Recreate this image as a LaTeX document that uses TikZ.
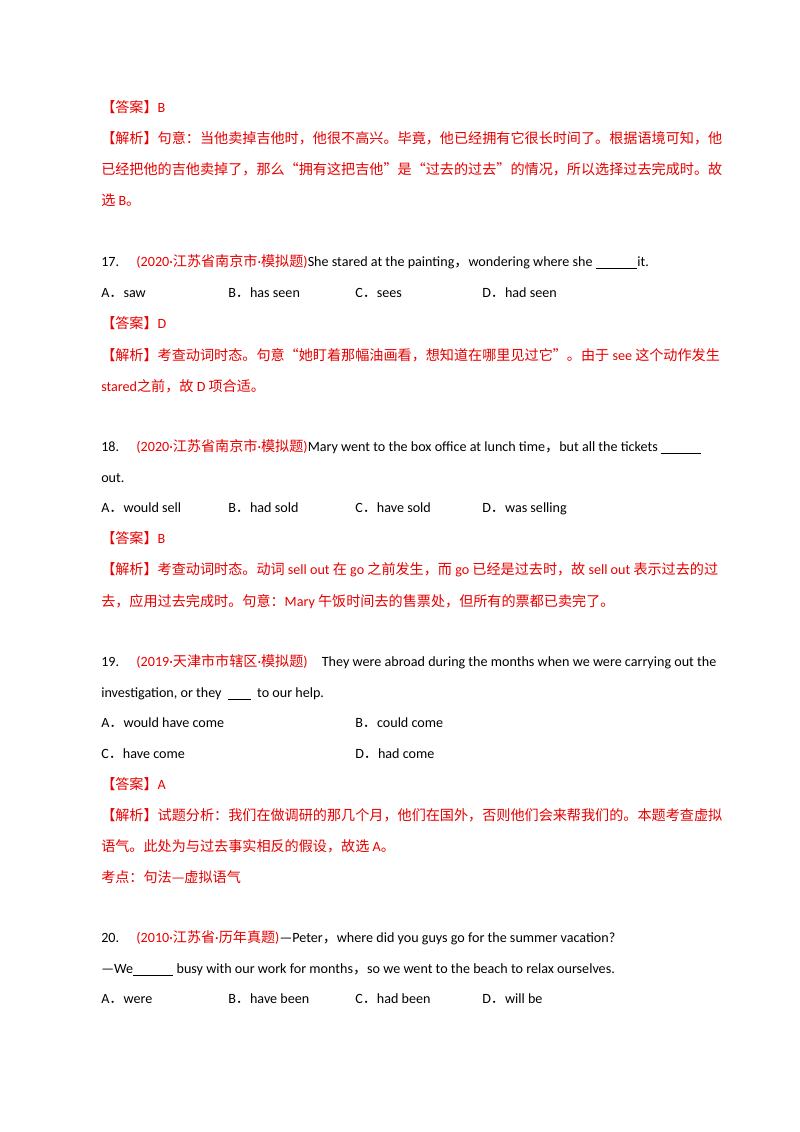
\documentclass[tikz,border=0pt]{standalone}
\usepackage{fontspec}
\setmainfont{Carlito}
\newfontfamily\cjk{Noto Sans CJK SC}
\newcommand\fdot{{\cjk ．}}
\definecolor{ansred}{RGB}{230,0,0}
\begin{document}
\begin{tikzpicture}[x=0.744pt,y=-0.744pt,
  ln/.style={anchor=base west,inner sep=0pt,font=\fontsize{10.5}{12}\selectfont},
  rl/.style={ln,text=ansred}]
\useasboundingbox (0,0) rectangle (800,1132);
\node[rl] (a1) at (101,112) {\cjk 【答案】\rmfamily B};
\node[rl] (a2) at (101,143) {\cjk 【解析】句意：当他卖掉吉他时，他很不高兴。毕竟，他已经拥有它很长时间了。根据语境可知，他};
\node[rl] (a3) at (101,174) {\cjk 已经把他的吉他卖掉了，那么“拥有这把吉他”是“过去的过去”的情况，所以选择过去完成时。故};
\node[rl] (a4) at (101,205) {\cjk 选\rmfamily\ B\cjk 。};
\node[ln] (q17) at (101,266) {17.\quad\ \textcolor{ansred}{(2020·{\cjk 江苏省南京市}·{\cjk 模拟题})}She stared at the painting{\cjk ，}wondering where she \underline{\hspace{31pt}}it.};
\node[ln] (o17a) at (101,297) {A\fdot saw};
\node[ln] (o17b) at (228,297) {B\fdot has seen};
\node[ln] (o17c) at (355,297) {C\fdot sees};
\node[ln] (o17d) at (482,297) {D\fdot had seen};
\node[rl] (a17) at (101,328) {\cjk 【答案】\rmfamily D};
\node[rl] (e17a) at (101,360) {\cjk 【解析】考查动词时态。句意“她盯着那幅油画看，想知道在哪里见过它”。由于\rmfamily\ see \cjk 这个动作发生};
\node[rl] (e17b) at (101,391) {\rmfamily stared\cjk 之前，故\rmfamily\ D \cjk 项合适。};
\node[ln] (q18) at (101,451) {18.\quad\ \textcolor{ansred}{(2020·{\cjk 江苏省南京市}·{\cjk 模拟题})}Mary went to the box office at lunch time{\cjk ，}but all the tickets \underline{\hspace{30pt}}};
\node[ln] (q18b) at (101,482) {out.};
\node[ln] (o18a) at (101,512) {A\fdot would sell};
\node[ln] (o18b) at (228,512) {B\fdot had sold};
\node[ln] (o18c) at (355,512) {C\fdot have sold};
\node[ln] (o18d) at (482,512) {D\fdot was selling};
\node[rl] (a18) at (101,543) {\cjk 【答案】\rmfamily B};
\node[rl] (e18a) at (101,574) {\cjk 【解析】考查动词时态。动词\rmfamily\ sell out \cjk 在\rmfamily\ go \cjk 之前发生，而\rmfamily\ go \cjk 已经是过去时，故\rmfamily\ sell out \cjk 表示过去的过};
\node[rl] (e18b) at (101,606) {\cjk 去，应用过去完成时。句意：\rmfamily Mary \cjk 午饭时间去的售票处，但所有的票都已卖完了。};
\node[ln] (q19) at (101,666) {19.\quad\ \textcolor{ansred}{(2019·{\cjk 天津市市辖区}·{\cjk 模拟题})}\quad They were abroad during the months when we were carrying out the};
\node[ln] (q19b) at (101,697) {investigation, or they \ \underline{\hspace{17pt}}\ \ to our help.};
\node[ln] (o19a) at (101,727) {A\fdot would have come};
\node[ln] (o19b) at (355,727) {B\fdot could come};
\node[ln] (o19c) at (101,758) {C\fdot have come};
\node[ln] (o19d) at (355,758) {D\fdot had come};
\node[rl] (a19) at (101,789) {\cjk 【答案】\rmfamily A};
\node[rl] (e19a) at (101,820) {\cjk 【解析】试题分析：我们在做调研的那几个月，他们在国外，否则他们会来帮我们的。本题考查虚拟};
\node[rl] (e19b) at (101,851) {\cjk 语气。此处为与过去事实相反的假设，故选\rmfamily\ A\cjk 。};
\node[rl] (e19c) at (101,882) {\cjk 考点：句法—虚拟语气};
\node[ln] (q20) at (101,942) {20.\quad\ \textcolor{ansred}{(2010·{\cjk 江苏省}·{\cjk 历年真题})}—Peter{\cjk ，}where did you guys go for the summer vacation?};
\node[ln] (q20b) at (101,973) {—We\underline{\hspace{30pt}} busy with our work for months{\cjk ，}so we went to the beach to relax ourselves.};
\node[ln] (o20a) at (101,1003) {A\fdot were};
\node[ln] (o20b) at (228,1003) {B\fdot have been};
\node[ln] (o20c) at (355,1003) {C\fdot had been};
\node[ln] (o20d) at (482,1003) {D\fdot will be};
\end{tikzpicture}
\end{document}
